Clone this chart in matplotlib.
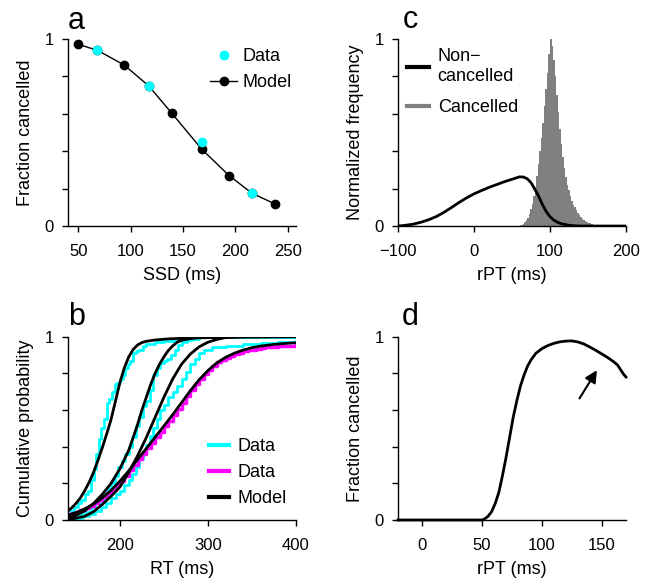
"""Four-panel stop-signal figure: inhibition function, RT distributions, rPT."""

import matplotlib
matplotlib.use("Agg")
import matplotlib.pyplot as plt
import numpy as np

plt.rcParams["font.family"] = ["Liberation Sans", "DejaVu Sans"]

CYAN = "#00ffff"
MAGENTA = "#ff00ff"
GRAY = "#808080"

# --- panel a: inhibition function ---
ssd_data = [68, 117, 168, 216]
frac_data = [0.94, 0.75, 0.45, 0.175]
ssd_model = [50, 68, 94, 117, 139, 168, 194, 216, 238]
frac_model = [0.971, 0.94, 0.86, 0.75, 0.605, 0.41, 0.27, 0.175, 0.118]

# --- panel b: cumulative RT distributions (data = steps, model = smooth) ---
rt_data1 = [140, 144, 148, 152, 156, 160, 164, 167, 170, 173, 176, 179, 182, 185, 188,
            191, 194, 197, 200, 203, 206, 209, 212, 215, 218, 222, 226, 230, 240, 250,
            262, 270, 285, 400]
cdf_data1 = [0.02, 0.05, 0.07, 0.09, 0.11, 0.14, 0.16, 0.22, 0.28, 0.36, 0.44, 0.5, 0.55,
             0.64, 0.66, 0.7, 0.74, 0.75, 0.77, 0.79, 0.83, 0.85, 0.87, 0.91, 0.92, 0.93,
             0.95, 0.96, 0.97, 0.975, 0.98, 0.99, 1.0, 1.0]
rt_data2 = [140, 148, 155, 162, 167, 172, 177, 182, 186, 190, 194, 198, 202, 206, 210,
            214, 218, 222, 226, 230, 234, 238, 242, 246, 250, 254, 258, 262, 266, 270,
            276, 282, 290, 400]
cdf_data2 = [0.01, 0.02, 0.03, 0.045, 0.07, 0.09, 0.11, 0.14, 0.17, 0.2, 0.24, 0.29, 0.32,
             0.36, 0.4, 0.45, 0.51, 0.56, 0.62, 0.65, 0.71, 0.79, 0.83, 0.855, 0.87, 0.88,
             0.9, 0.93, 0.955, 0.97, 0.98, 0.99, 1.0, 1.0]
rt_data3 = [140, 150, 158, 165, 172, 178, 184, 190, 195, 200, 205, 210, 214, 218, 222,
            226, 230, 234, 238, 242, 246, 250, 255, 260, 265, 270, 275, 280, 285, 290,
            295, 305, 320, 340, 360, 380, 400]
cdf_data3 = [0.0, 0.01, 0.02, 0.035, 0.05, 0.07, 0.09, 0.12, 0.14, 0.16, 0.19, 0.22, 0.25,
             0.29, 0.33, 0.37, 0.41, 0.46, 0.5, 0.55, 0.6, 0.63, 0.67, 0.7, 0.73, 0.77,
             0.81, 0.85, 0.88, 0.91, 0.93, 0.945, 0.95, 0.96, 0.967, 0.973, 0.978]
rt_data4 = list(range(140, 405, 5))
cdf_data4 = [0.03, 0.037, 0.045, 0.055, 0.065, 0.077, 0.09, 0.107, 0.125, 0.145, 0.165,
             0.19, 0.215, 0.242, 0.27, 0.3, 0.33, 0.36, 0.39, 0.42, 0.45, 0.48, 0.51,
             0.54, 0.57, 0.605, 0.64, 0.675, 0.71, 0.74, 0.77, 0.795, 0.82, 0.84, 0.86,
             0.873, 0.885, 0.895, 0.905, 0.913, 0.92, 0.925, 0.93, 0.934, 0.938, 0.941,
             0.944, 0.946, 0.948, 0.949, 0.95, 0.951, 0.952]

rt_model1 = [140, 145, 150, 155, 160, 165, 170, 175, 180, 185, 190, 195, 200, 205, 210,
             215, 220, 225, 230, 240, 255, 270, 300, 350, 400]
cdf_model1 = [0.045, 0.065, 0.09, 0.12, 0.16, 0.205, 0.26, 0.325, 0.395, 0.47, 0.55, 0.65,
              0.75, 0.83, 0.89, 0.93, 0.955, 0.968, 0.975, 0.982, 0.988, 0.991, 0.995,
              0.998, 1.0]
rt_model2 = [140, 150, 160, 170, 180, 190, 195, 200, 205, 210, 215, 220, 225, 230, 235,
             240, 245, 250, 255, 260, 265, 270, 280, 290, 300, 400]
cdf_model2 = [0.01, 0.025, 0.05, 0.09, 0.14, 0.2, 0.24, 0.28, 0.33, 0.38, 0.45, 0.52, 0.6,
              0.67, 0.74, 0.8, 0.85, 0.89, 0.925, 0.95, 0.97, 0.98, 0.99, 0.996, 1.0, 1.0]
rt_model3 = [140, 150, 160, 170, 180, 190, 200, 210, 220, 230, 240, 250, 260, 270, 280,
             290, 300, 310, 320, 335, 400]
cdf_model3 = [0.0, 0.01, 0.02, 0.045, 0.085, 0.13, 0.18, 0.26, 0.35, 0.45, 0.56, 0.67,
              0.77, 0.85, 0.905, 0.945, 0.97, 0.985, 0.995, 1.0, 1.0]
rt_model4 = [140, 150, 160, 170, 180, 190, 200, 210, 220, 230, 240, 250, 260, 270, 280,
             290, 300, 310, 320, 330, 340, 350, 360, 370, 380, 390, 400]
cdf_model4 = [0.025, 0.04, 0.06, 0.087, 0.12, 0.162, 0.212, 0.268, 0.33, 0.39, 0.452,
              0.513, 0.575, 0.64, 0.705, 0.765, 0.815, 0.857, 0.887, 0.91, 0.927, 0.94,
              0.949, 0.955, 0.96, 0.964, 0.967]

# --- panel c: rPT distributions ---
rpt_bins = list(range(51, 171, 2))
cancelled_freq = [0.0, 0.0, 0.0, 0.001, 0.002, 0.004, 0.007, 0.012, 0.02, 0.03, 0.045,
                  0.065, 0.09, 0.12, 0.16, 0.21, 0.27, 0.33, 0.4, 0.47, 0.55, 0.64, 0.73,
                  0.82, 0.92, 1.0, 0.96, 0.89, 0.8, 0.7, 0.61, 0.52, 0.44, 0.37, 0.31,
                  0.26, 0.22, 0.19, 0.16, 0.135, 0.115, 0.1, 0.085, 0.07, 0.058, 0.048,
                  0.04, 0.033, 0.027, 0.022, 0.018, 0.014, 0.011, 0.008, 0.006, 0.004,
                  0.003, 0.002, 0.001, 0.0]
rpt_noncanc = [-100, -90, -80, -70, -60, -50, -40, -30, -20, -10, 0, 10, 20, 30, 40, 50,
               60, 65, 70, 75, 80, 85, 90, 95, 100, 105, 110, 115, 120, 125, 130, 140, 200]
noncanc_freq = [0.0, 0.004, 0.01, 0.02, 0.033, 0.05, 0.072, 0.098, 0.125, 0.15, 0.172,
                0.19, 0.207, 0.222, 0.237, 0.25, 0.263, 0.262, 0.253, 0.232, 0.197, 0.16,
                0.115, 0.078, 0.05, 0.032, 0.02, 0.012, 0.008, 0.004, 0.002, 0.0, 0.0]

# --- panel d: fraction cancelled vs rPT ---
rpt_d = [-20, 0, 20, 40, 50, 52, 55, 58, 61, 64, 67, 70, 73, 76, 79, 82, 85, 88, 91, 95,
         100, 105, 110, 115, 120, 125, 130, 135, 140, 145, 150, 155, 160, 163, 166, 168, 170]
frac_d = [0.0, 0.0, 0.0, 0.0, 0.0, 0.005, 0.02, 0.045, 0.09, 0.15, 0.24, 0.34, 0.45, 0.56,
          0.65, 0.73, 0.79, 0.84, 0.875, 0.91, 0.935, 0.952, 0.964, 0.972, 0.976, 0.977,
          0.971, 0.96, 0.943, 0.925, 0.905, 0.885, 0.862, 0.845, 0.815, 0.795, 0.78]

FS_TICK = 12
FS_LABEL = 13


def style_axes(ax, xticks, xlim, xlabel, ylabel):
    for side in ("top", "right"):
        ax.spines[side].set_visible(False)
    for side in ("left", "bottom"):
        ax.spines[side].set_linewidth(1)
    ax.set_xlim(*xlim)
    ax.set_ylim(0, 1)
    ax.set_xticks(xticks)
    ax.set_yticks(np.linspace(0, 1, 6))
    ax.set_yticklabels(["0", "", "", "", "", "1"])
    ax.tick_params(direction="out", length=4, width=1, labelsize=FS_TICK)
    ax.tick_params(axis="x", pad=9)
    ax.tick_params(axis="y", pad=6)
    ax.set_xlabel(xlabel, fontsize=FS_LABEL, labelpad=6)
    ax.set_ylabel(ylabel, fontsize=FS_LABEL, labelpad=8)


fig = plt.figure(figsize=(6.57, 5.83), dpi=100)
ax_a = fig.add_axes([0.1035, 0.6123, 0.347, 0.3208])
ax_c = fig.add_axes([0.6058, 0.6123, 0.347, 0.3208])
ax_b = fig.add_axes([0.1035, 0.1081, 0.347, 0.3144])
ax_d = fig.add_axes([0.6058, 0.1081, 0.347, 0.3144])

# a
ax_a.plot(ssd_model, frac_model, "-o", color="black", lw=1, ms=6, label="Model", zorder=2)
ax_a.plot(ssd_data, frac_data, "o", color=CYAN, ms=6, label="Data", zorder=3)
style_axes(ax_a, [50, 100, 150, 200, 250], (40, 258), "SSD (ms)", "Fraction cancelled")
h, l = ax_a.get_legend_handles_labels()
ax_a.legend(h[::-1], l[::-1], loc="upper right", frameon=False, fontsize=FS_LABEL,
            handlelength=1.5, handletextpad=0.3, borderaxespad=0.2,
            bbox_to_anchor=(1.03, 1.01))

# b
ax_b.step(rt_data1, cdf_data1, where="post", color=CYAN, lw=2)
ax_b.step(rt_data2, cdf_data2, where="post", color=CYAN, lw=2)
ax_b.step(rt_data3, cdf_data3, where="post", color=CYAN, lw=2, label="Data")
ax_b.step(rt_data4, cdf_data4, where="post", color=MAGENTA, lw=2.5, label="Data")
ax_b.plot(rt_model1, cdf_model1, color="black", lw=2)
ax_b.plot(rt_model2, cdf_model2, color="black", lw=2)
ax_b.plot(rt_model3, cdf_model3, color="black", lw=2)
ax_b.plot(rt_model4, cdf_model4, color="black", lw=2, label="Model")
style_axes(ax_b, [200, 300, 400], (141, 400), "RT (ms)", "Cumulative probability")
leg_b = ax_b.legend(loc="lower right", frameon=False, fontsize=FS_LABEL,
                    handlelength=1.1, handletextpad=0.5, borderaxespad=0.1,
                    bbox_to_anchor=(1.0, 0.02))
for line in leg_b.get_lines():
    line.set_linewidth(3)

# c: histogram as one stepped polygon so the bins show no seams
ax_c.fill_between(rpt_bins, cancelled_freq, step="mid", color=GRAY, lw=0)
ax_c.plot(rpt_noncanc, noncanc_freq, color="black", lw=2)
style_axes(ax_c, [-100, 0, 100, 200], (-100, 200), "rPT (ms)", "Normalized frequency")
hc = [plt.Line2D([], [], color="black", lw=3), plt.Line2D([], [], color=GRAY, lw=3)]
ax_c.legend(hc, ["Non\u2212\ncancelled", "Cancelled"], loc="upper left", frameon=False,
            fontsize=FS_LABEL, handlelength=1.2, handletextpad=0.5, borderaxespad=0.1,
            labelspacing=0.8)

# d
ax_d.plot(rpt_d, frac_d, color="black", lw=2, clip_on=False)
style_axes(ax_d, [0, 50, 100, 150], (-20, 170), "rPT (ms)", "Fraction cancelled")
ax_d.annotate("", xy=(147, 0.83), xytext=(130, 0.65),
              arrowprops=dict(arrowstyle="-|>", color="black", lw=1.5, mutation_scale=18))

# panel letters
for x, y, s in [(68, 29, "a"), (403, 28, "c"), (68, 325, "b"), (402, 325, "d")]:
    fig.text(x / 657, 1 - y / 583, s, fontsize=22, va="baseline", ha="left")

fig.savefig("out.png", dpi=100)
plt.close(fig)
